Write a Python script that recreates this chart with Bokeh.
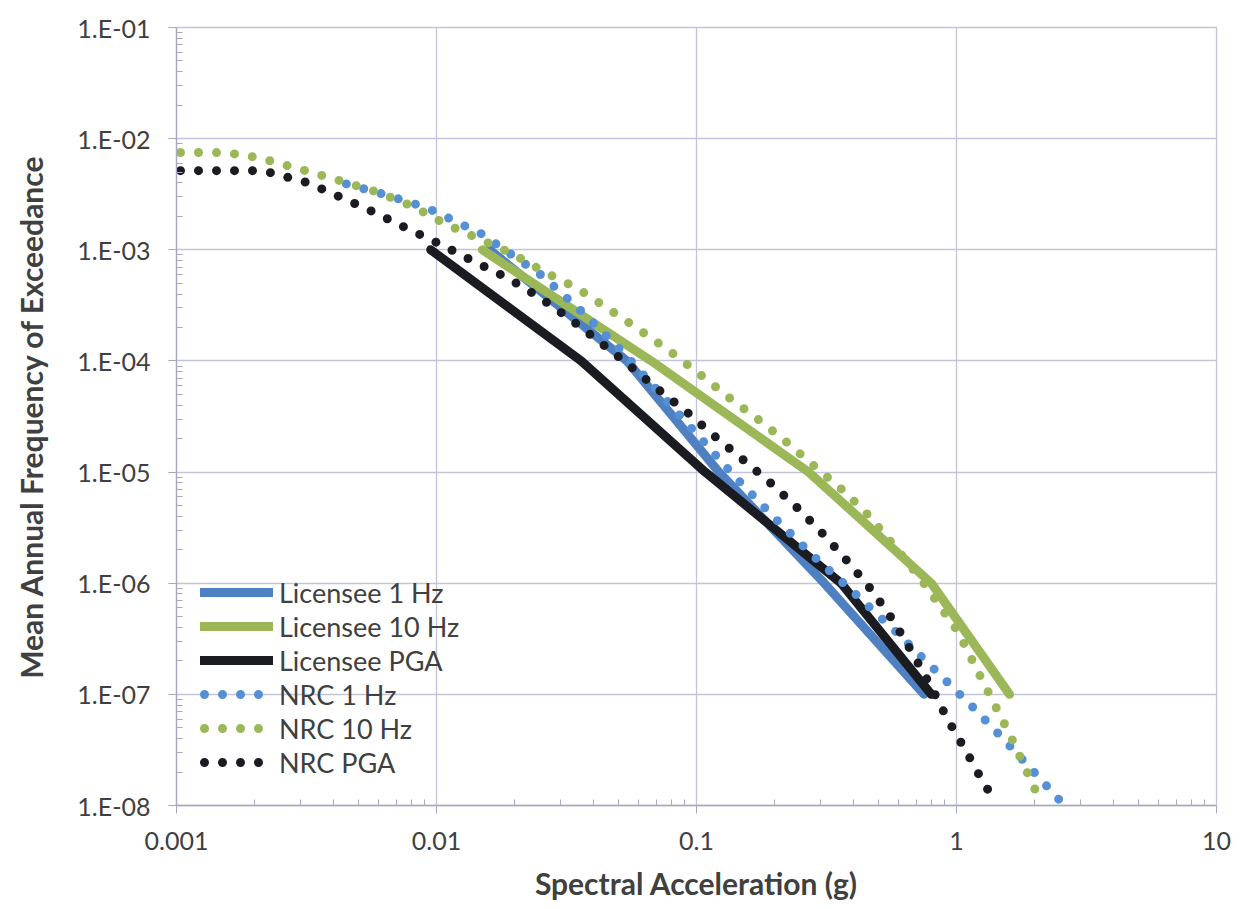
from bokeh.plotting import figure
from bokeh.models import (ColumnDataSource, FixedTicker, Legend, LegendItem, Range1d)
from bokeh.embed import file_html
from bokeh.resources import INLINE

# ---------------- data ----------------
afe_levels = [1e-3, 1e-4, 1e-5, 1e-6, 1e-7]

lic_1hz_sa = [0.016, 0.054, 0.122, 0.31, 0.75]
lic_10hz_sa = [0.015, 0.067, 0.27, 0.8, 1.6]
lic_pga_sa = [0.0095, 0.036, 0.108, 0.36, 0.8]

nrc_1hz_sa = [0.00435, 0.006, 0.0082, 0.0097, 0.0149, 0.0256, 0.0367, 0.0524, 0.0728,
              0.101, 0.141, 0.198, 0.282, 0.406, 0.582, 0.83, 1.18, 1.48, 2.07, 2.58]
nrc_1hz_afe = [4.0e-3, 3.25e-3, 2.6e-3, 2.25e-3, 1.39e-3, 5.8e-4, 2.7e-4, 1.18e-4, 5.05e-5,
               2.15e-5, 9.0e-6, 3.94e-6, 1.75e-6, 8.1e-7, 3.7e-7, 1.64e-7, 7.3e-8, 4.2e-8,
               1.8e-8, 1.02e-8]

nrc_10hz_sa = [0.001, 0.00141, 0.00166, 0.00195, 0.0023, 0.00318, 0.00438, 0.00593, 0.00817,
               0.0108, 0.0145, 0.0196, 0.026, 0.0348, 0.0462, 0.0604, 0.0787, 0.103, 0.133,
               0.172, 0.222, 0.284, 0.367, 0.462, 0.573, 0.728, 1.01, 1.28, 1.6, 2.1]
nrc_10hz_afe = [7.5e-3, 7.5e-3, 7.3e-3, 6.9e-3, 6.3e-3, 5.1e-3, 4.1e-3, 3.3e-3, 2.44e-3,
                1.71e-3, 1.26e-3, 9.2e-4, 6.3e-4, 4.5e-4, 2.9e-4, 1.9e-4, 1.23e-4, 7.6e-5,
                4.7e-5, 3.0e-5, 1.86e-5, 1.13e-5, 6.8e-6, 4.0e-6, 2.2e-6, 1.1e-6, 3.7e-7,
                1.23e-7, 4.4e-8, 1.1e-8]

nrc_pga_sa = [0.001, 0.00166, 0.00196, 0.0023, 0.0027, 0.00319, 0.00432, 0.00582, 0.00773,
              0.01045, 0.014, 0.0187, 0.0247, 0.0322, 0.042, 0.0543, 0.0701, 0.0908, 0.116,
              0.15, 0.193, 0.247, 0.31, 0.387, 0.475, 0.573, 0.678, 0.794, 0.923, 1.09, 1.28, 1.39]
nrc_pga_afe = [5.15e-3, 5.15e-3, 5.15e-3, 4.94e-3, 4.46e-3, 4.02e-3, 2.94e-3, 2.15e-3, 1.55e-3,
               1.11e-3, 7.8e-4, 5.6e-4, 3.78e-4, 2.44e-4, 1.51e-4, 9.4e-5, 5.7e-5, 3.55e-5,
               2.15e-5, 1.31e-5, 7.96e-6, 4.65e-6, 2.7e-6, 1.51e-6, 8.5e-7, 4.55e-7, 2.34e-7,
               1.2e-7, 6.0e-8, 3.06e-8, 1.55e-8, 1.16e-8]

series_names = ["Licensee 1 Hz", "Licensee 10 Hz", "Licensee PGA", "NRC 1 Hz", "NRC 10 Hz", "NRC PGA"]

x_ticks = [0.001, 0.01, 0.1, 1, 10]
x_tick_labels = ["0.001", "0.01", "0.1", "1", "10"]
y_ticks = [1e-8, 1e-7, 1e-6, 1e-5, 1e-4, 1e-3, 1e-2, 1e-1]
y_tick_labels = ["1.E-08", "1.E-07", "1.E-06", "1.E-05", "1.E-04", "1.E-03", "1.E-02", "1.E-01"]

# ---------------- styling ----------------
FONT = "Lato"
TXT = "#404040"
GRID = "#c4c4d8"
AXIS = "#a8a8c0"
BLUE = "#4f81c2"
BLUE_DOT = "#5590d6"
GREEN = "#9bb757"
BLACK = "#1b1b22"

p = figure(width=1257, height=909, x_axis_type="log", y_axis_type="log",
           x_range=Range1d(0.001, 10), y_range=Range1d(1e-8, 1e-1),
           output_backend="svg", toolbar_location=None,
           min_border_left=176, min_border_right=41, min_border_top=27, min_border_bottom=104,
           background_fill_color="white", border_fill_color="white")
p.styles = {"outline": "1px solid #c8c8c8", "outline-offset": "-2px"}
p.outline_line_color = GRID
p.outline_line_width = 1.3

x_minor = [k * t for t in x_ticks[:-1] for k in range(2, 10)]
y_minor = [k * t for t in y_ticks[:-1] for k in range(2, 10)]
p.xaxis.ticker = FixedTicker(ticks=x_ticks, minor_ticks=x_minor)
p.yaxis.ticker = FixedTicker(ticks=y_ticks, minor_ticks=y_minor)
p.xaxis.major_label_overrides = {t: l for t, l in zip(x_ticks, x_tick_labels)}
p.yaxis.major_label_overrides = {t: l for t, l in zip(y_ticks, y_tick_labels)}

for ax in (p.xaxis, p.yaxis):
    ax.axis_line_color = AXIS
    ax.axis_line_width = 1.3
    ax.major_tick_line_color = AXIS
    ax.minor_tick_line_color = AXIS
    ax.major_tick_out = 8
    ax.major_tick_in = 0
    ax.minor_tick_in = 6
    ax.minor_tick_out = 0
    ax.major_label_text_font = FONT
    ax.major_label_text_font_size = "25px"
    ax.major_label_text_color = TXT
    ax.axis_label_text_font = FONT
    ax.axis_label_text_font_size = "30px"
    ax.axis_label_text_font_style = "bold"
    ax.axis_label_text_color = TXT

p.xaxis.axis_label = "Spectral Acceleration (g)"
p.yaxis.axis_label = "Mean Annual Frequency of Exceedance"
p.xaxis.major_label_standoff = 18
p.yaxis.major_label_standoff = 18
p.xaxis.axis_label_standoff = 12
p.yaxis.axis_label_standoff = 25

p.xgrid.grid_line_color = GRID
p.ygrid.grid_line_color = GRID
p.xgrid.grid_line_width = 1.3
p.ygrid.grid_line_width = 1.3

# ---------------- series ----------------
renderers = []
solid_specs = [(lic_1hz_sa, BLUE), (lic_10hz_sa, GREEN), (lic_pga_sa, BLACK)]
for sa, col in solid_specs:
    src = ColumnDataSource(dict(x=sa, y=afe_levels))
    r = p.line("x", "y", source=src, line_color=col, line_width=9,
               line_cap="round", line_join="round")
    renderers.append(r)

dot_specs = [(nrc_1hz_sa, nrc_1hz_afe, BLUE_DOT), (nrc_10hz_sa, nrc_10hz_afe, GREEN),
             (nrc_pga_sa, nrc_pga_afe, BLACK)]
for sa, afe, col in dot_specs:
    src = ColumnDataSource(dict(x=sa, y=afe))
    r = p.line("x", "y", source=src, line_color=col, line_width=9,
               line_dash="0 18", line_dash_offset=14, line_cap="round", line_join="round")
    renderers.append(r)

legend = Legend(items=[LegendItem(label=n, renderers=[r]) for n, r in zip(series_names, renderers)],
                location=(24, 26), orientation="vertical",
                label_text_font=FONT, label_text_font_size="27px", label_text_color=TXT,
                glyph_width=73, glyph_height=34, label_height=34, spacing=0,
                padding=0, margin=0, label_standoff=6,
                border_line_color=None, background_fill_alpha=0)
p.add_layout(legend)

open("out.html", "w").write(file_html(p, INLINE))
